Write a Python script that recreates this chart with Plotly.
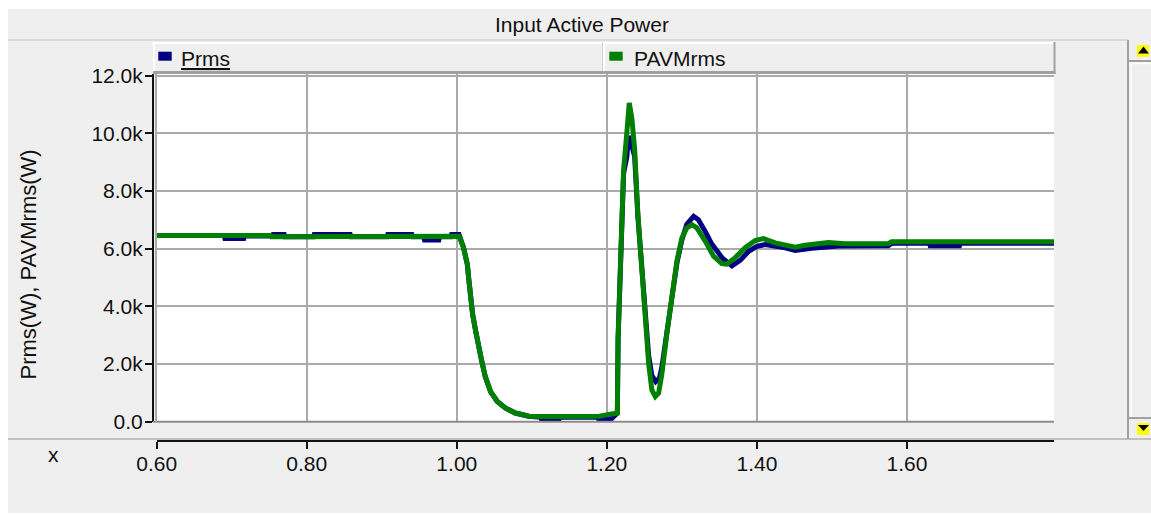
import plotly.graph_objects as go

# ---- series data -----------------------------------------------------------
t_prms = [0.600, 0.690, 0.691, 0.716, 0.717, 0.754, 0.755, 0.770, 0.771, 0.809,
          0.810, 0.858, 0.859, 0.907, 0.908, 0.940, 0.941, 0.956, 0.957, 0.976,
          0.977, 0.992, 0.993, 1.003, 1.009, 1.014, 1.016, 1.018, 1.021, 1.025,
          1.028, 1.033, 1.038, 1.045, 1.054, 1.065, 1.078, 1.096, 1.112, 1.113,
          1.136, 1.137, 1.188, 1.189, 1.206, 1.213, 1.214, 1.215, 1.218, 1.220,
          1.2223, 1.2267, 1.2286, 1.2320, 1.2370, 1.2414, 1.2446, 1.2477, 1.2513,
          1.2557, 1.2600, 1.2652, 1.2700, 1.2734, 1.2800, 1.2867, 1.2934, 1.3000,
          1.3066, 1.3156, 1.3220, 1.3311, 1.3390, 1.3533, 1.3667, 1.3780, 1.3890,
          1.4000, 1.4110, 1.4377, 1.4510, 1.4730, 1.5090, 1.5750, 1.5800, 1.6300,
          1.6310, 1.6700, 1.6710, 1.7960]
p_prms = [6460, 6460, 6350, 6350, 6440, 6440, 6490, 6490, 6410, 6410,
          6490, 6490, 6410, 6410, 6490, 6490, 6410, 6410, 6300, 6300,
          6410, 6410, 6490, 6490, 6030, 5460, 4940, 4310, 3740, 3160,
          2710, 2130, 1560, 1040, 700, 470, 300, 190, 150, 70,
          70, 150, 150, 90, 90, 250, 300, 2900, 5600, 7180,
          8600, 9200, 9900, 9700, 9200, 7100, 6100, 4800, 3700,
          2300, 1600, 1390, 1500, 1900, 3100, 4400, 5500, 6300,
          6850, 7120, 7000, 6600, 6200, 5690, 5400, 5600, 5910,
          6080, 6140, 6030, 5940, 6010, 6090, 6100, 6190, 6190,
          6100, 6100, 6190, 6190]

t_pavm = [0.600, 0.752, 0.753, 0.998, 1.003, 1.009, 1.014, 1.016, 1.018, 1.021,
          1.025, 1.028, 1.033, 1.038, 1.045, 1.054, 1.065, 1.078, 1.096, 1.120,
          1.160, 1.190, 1.2065, 1.2140, 1.2150, 1.2180, 1.2200, 1.2223, 1.2267,
          1.2299, 1.2334, 1.2370, 1.2414, 1.2446, 1.2477, 1.2513, 1.2557, 1.2600,
          1.2646, 1.2690, 1.2734, 1.2800, 1.2867, 1.2934, 1.3000, 1.3066, 1.3133,
          1.3200, 1.3311, 1.3422, 1.3533, 1.3600, 1.3711, 1.3844, 1.3977, 1.4088,
          1.4244, 1.4377, 1.4510, 1.4643, 1.4776, 1.4953, 1.5175, 1.5752, 1.5796,
          1.7960]
p_pavm = [6460, 6460, 6410, 6410, 6430, 6030, 5460, 4940, 4310, 3740,
          3160, 2710, 2130, 1560, 1040, 700, 470, 300, 190, 180,
          180, 190, 270, 300, 2900, 5600, 7180, 8720, 10040,
          11050, 10500, 9470, 7180, 6030, 4650, 3510, 2020, 1100,
          870, 990, 1670, 3050, 4430, 5570, 6370, 6720, 6830,
          6720, 6260, 5740, 5480, 5460, 5690, 6030, 6280, 6350,
          6200, 6120, 6050, 6120, 6170, 6210, 6170, 6170, 6240,
          6240]

x_ticks = [0.60, 0.80, 1.00, 1.20, 1.40, 1.60]
x_tick_text = ["0.60", "0.80", "1.00", "1.20", "1.40", "1.60"]
y_ticks = [0, 2000, 4000, 6000, 8000, 10000, 12000]
y_tick_text = ["0.0", "2.0k", "4.0k", "6.0k", "8.0k", "10.0k", "12.0k"]

series_names = ["Prms", "PAVMrms"]
series_colors = ["#000080", "#008000"]

# ---- canvas helpers (margins are zero, so paper coords == page coords) ------
W, H = 1151, 514
FONT = "Liberation Sans, Arial, Helvetica, sans-serif"
BG = "#efefef"
EDGE = "#a0a0a0"


def px(x):
    return x / W


def py(y):
    return 1 - y / H


def rect(x0, y0, x1, y1, fill, line_color=None, line_width=0, layer="above"):
    return dict(type="rect", xref="paper", yref="paper",
                x0=px(x0), x1=px(x1), y0=py(y0), y1=py(y1),
                fillcolor=fill, layer=layer,
                line=dict(color=line_color or fill, width=line_width))


def hline(x0, x1, y, color, width, layer="above"):
    return dict(type="line", xref="paper", yref="paper",
                x0=px(x0), x1=px(x1), y0=py(y), y1=py(y),
                line=dict(color=color, width=width), layer=layer)


def vline(x, y0, y1, color, width, layer="above"):
    return dict(type="line", xref="paper", yref="paper",
                x0=px(x), x1=px(x), y0=py(y0), y1=py(y1),
                line=dict(color=color, width=width), layer=layer)


def tri(points, color):
    d = "M " + " L ".join(f"{px(a)},{py(b)}" for a, b in points) + " Z"
    return dict(type="path", xref="paper", yref="paper", path=d,
                fillcolor=color, line=dict(color=color, width=0), layer="above")


fig = go.Figure()
for t, p, name, color in [(t_prms, p_prms, series_names[0], series_colors[0]),
                          (t_pavm, p_pavm, series_names[1], series_colors[1])]:
    fig.add_trace(go.Scatter(x=t, y=p, mode="lines", name=name,
                             line=dict(color=color, width=5),
                             hoverinfo="skip"))

plot_left, plot_right, plot_top, plot_bottom = 156.7, 1054, 74, 421.7

fig.update_layout(
    width=W, height=H,
    margin=dict(l=0, r=0, t=0, b=0, pad=0),
    paper_bgcolor=BG, plot_bgcolor="white",
    showlegend=False,
    font=dict(family=FONT, size=21, color="#111111"),
    xaxis=dict(
        domain=[px(plot_left), px(plot_right)], range=[0.6, 1.796],
        anchor="free", position=py(441),
        tickmode="array", tickvals=x_ticks, ticktext=x_tick_text,
        ticks="outside", ticklen=7, tickwidth=2, tickcolor="#111111",
        ticklabelstandoff=-3,
        showline=True, linecolor="#111111", linewidth=2,
        showgrid=True, gridcolor="#aaaaaa", gridwidth=2,
        zeroline=False, automargin=False,
        tickfont=dict(family=FONT, size=21, color="#111111"),
    ),
    yaxis=dict(
        domain=[py(plot_bottom), py(plot_top)], range=[0, 12055],
        anchor="free", position=px(153),
        tickmode="array", tickvals=y_ticks, ticktext=y_tick_text,
        ticks="outside", ticklen=7, tickwidth=2, tickcolor="#111111",
        ticklabelstandoff=-2,
        showline=True, linecolor="#111111", linewidth=2,
        showgrid=True, gridcolor="#aaaaaa", gridwidth=2,
        zeroline=False, automargin=False,
        tickfont=dict(family=FONT, size=21, color="#111111"),
    ),
)

shapes = [
    # white page border
    rect(0, 0, 8, H, "white", layer="below"),
    rect(0, 0, W, 9, "white", layer="below"),
    rect(0, 513, W, H, "white", layer="below"),
    # title band separator
    hline(8, 1128, 40, "#d2d2d2", 1.5),
    # legend header bar
    rect(153, 42, 1055, 73, BG),
    hline(153, 1055, 43, "white", 2),
    vline(154, 42, 73, "white", 2),
    hline(153, 1055.5, 72.5, EDGE, 3),
    vline(1054.5, 42, 74, EDGE, 2),
    vline(602.5, 42, 71, "#cfcfcf", 1),
    vline(604, 42, 71, "white", 2),
    rect(158.3, 51.7, 171.7, 60.7, series_colors[0]),
    rect(609.3, 51.7, 622.7, 60.7, series_colors[1]),
    # plot frame
    hline(153, 1054, 421.7, "#8c8c8c", 2),
    vline(156, 74, 421.7, "#aaaaaa", 2),
    # lower separator
    hline(8, W, 439, "#b0b0b0", 1.5),
    # scrollbar
    vline(1128, 40, 439, EDGE, 2),
    hline(1128, W, 61, EDGE, 2),
    hline(1130, W, 63.5, "white", 1.5),
    vline(1131, 63, 417, "white", 1.5),
    hline(1128, W, 418, EDGE, 2),
    rect(1137, 45, 1149, 57, "#ffff00"),
    tri([(1143.5, 46.5), (1149, 53.5), (1138, 53.5)], "#000000"),
    rect(1137, 423, 1149, 435, "#ffff00"),
    tri([(1138, 425), (1149, 425), (1143.5, 431)], "#000000"),
]
fig.update_layout(shapes=shapes)

annotations = [
    dict(text="Input Active Power", x=px(582), y=py(24),
         xanchor="center", yanchor="middle", font=dict(size=21)),
    dict(text="<u>" + series_names[0] + "</u>", x=px(179), y=py(58),
         xanchor="left", yanchor="middle", font=dict(size=21)),
    dict(text=series_names[1], x=px(632), y=py(58),
         xanchor="left", yanchor="middle", font=dict(size=21)),
    dict(text="Prms(W), PAVMrms(W)", x=px(28), y=py(264.5), textangle=-90,
         xanchor="center", yanchor="middle", font=dict(size=22)),
    dict(text="x", x=px(53), y=py(454),
         xanchor="center", yanchor="middle", font=dict(size=21)),
]
for a in annotations:
    a.update(xref="paper", yref="paper", showarrow=False)
fig.update_layout(annotations=annotations)

fig.write_html("out.html")
